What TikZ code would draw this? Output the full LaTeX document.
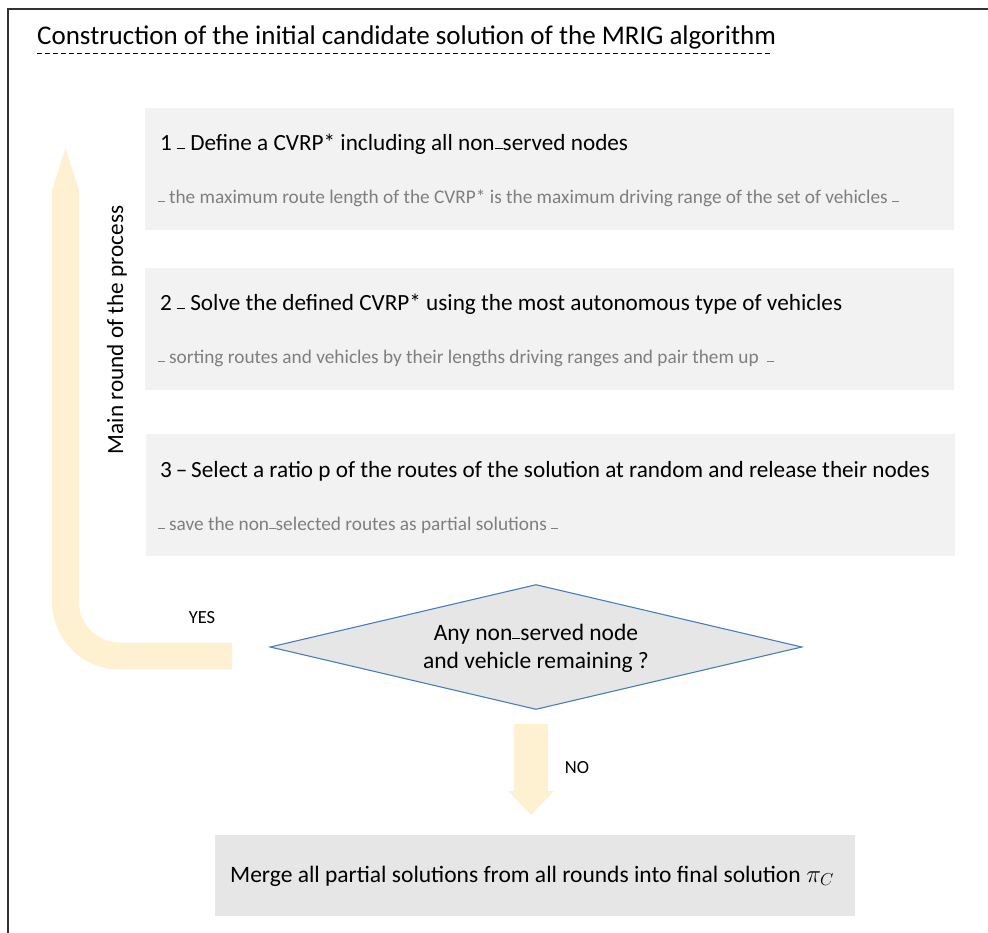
\documentclass[tikz,border=0pt]{standalone}
\usepackage{fontspec}
\setmainfont{Carlito}
\usetikzlibrary{shapes.geometric}
% short dash sitting on the baseline, as used in the step texts
\newcommand{\lowdash}{\rule[0.03em]{0.34em}{0.07em}}
\definecolor{stepfill}{HTML}{F2F2F2}
\definecolor{endfill}{HTML}{E6E6E6}
\definecolor{decfill}{HTML}{E7E6E6}
\definecolor{decline}{HTML}{4A7EBB}
\definecolor{flow}{HTML}{FDF1D2}
\definecolor{subgray}{HTML}{7F7F7F}
\tikzset{
  x=1pt, y=-1pt,
  stepbox/.style={rectangle, fill=stepfill, draw=none, anchor=north west,
    minimum width=809pt, minimum height=122pt, inner sep=0pt},
  endbox/.style={rectangle, fill=endfill, draw=none, anchor=north west,
    minimum width=640pt, minimum height=81pt, inner sep=0pt},
  steptitle/.style={anchor=base west, inner sep=0pt, font=\fontsize{23.2}{27}\selectfont},
  stepnote/.style={anchor=base west, inner sep=0pt, text=subgray, font=\fontsize{19.3}{23}\selectfont},
  smalllabel/.style={anchor=base, inner sep=0pt, font=\fontsize{18.5}{22}\selectfont},
  decision/.style={diamond, fill=decfill, draw=decline, line width=1.1pt,
    minimum width=532pt, minimum height=125pt, aspect=4.256, inner sep=0pt},
  dectext/.style={anchor=base, inner sep=0pt, font=\fontsize{23.5}{28}\selectfont},
}
\begin{document}
\begin{tikzpicture}
\useasboundingbox (0,0) rectangle (988,932);
\clip (0,0) rectangle (988,932);
% outer frame
\draw[line width=2pt, black!80] (8,9) rectangle (1000,945);

% heading
\node[anchor=base west, inner sep=0pt, font=\fontsize{27}{32}\selectfont] (title) at (37,44)
  {Construction of the initial candidate solution of the MRIG algorithm};
\draw[dashed, line width=0.8pt, dash pattern=on 5pt off 3pt] (37,53) -- (773,53);

% process steps
\node[stepbox] (s1) at (145,108) {};
\node[steptitle] (s1t) at (160,150) {1 \lowdash\ Define a CVRP* including all non\lowdash served nodes};
\node[stepnote] (s1n) at (158,203) {\lowdash\ the maximum route length of the CVRP* is the maximum driving range of the set of vehicles \lowdash};

\node[stepbox] (s2) at (145,268) {};
\node[steptitle] (s2t) at (160,310) {2 \lowdash\ Solve the defined CVRP* using the most autonomous type of vehicles};
\node[stepnote] (s2n) at (158,363) {\lowdash\ sorting routes and vehicles by their lengths driving ranges and pair them up \ \lowdash};

\node[stepbox] (s3) at (146,434) {};
\node[steptitle] (s3t) at (160,477) {3\,--\,Select a ratio p of the routes of the solution at random and release their nodes};
\node[stepnote] (s3n) at (158,530) {\lowdash\ save the non\lowdash selected routes as partial solutions \lowdash};

% decision
\node[decision] (dec) at (536,647) {};
\node[dectext] (d1) at (536,640) {Any non\lowdash served node};
\node[dectext] (d2) at (536,668) {and vehicle remaining ?};

% loop back arrow (YES)
\draw[flow, line width=27pt, rounded corners=54pt] (232,656) -- (65.5,656) -- (65.5,189);
\fill[flow] (52,190) -- (65.5,148) -- (79,190) -- cycle;
\node[smalllabel] (yes) at (202,623) {YES};
\node[rotate=90, inner sep=0pt, font=\fontsize{23.2}{27}\selectfont] (loop) at (117,330) {Main round of the process};

% exit arrow (NO)
\fill[flow] (514,724) rectangle (548,792);
\fill[flow] (508,791) -- (554,791) -- (531,815) -- cycle;
\node[smalllabel] (no) at (577,773) {NO};

% final step
\node[endbox] (fin) at (215,835) {};
\node[anchor=base west, inner sep=0pt, font=\fontsize{23.5}{28}\selectfont] (fint) at (230,882)
  {Merge all partial solutions from all rounds into final solution $\pi_C$};
\end{tikzpicture}
\end{document}
